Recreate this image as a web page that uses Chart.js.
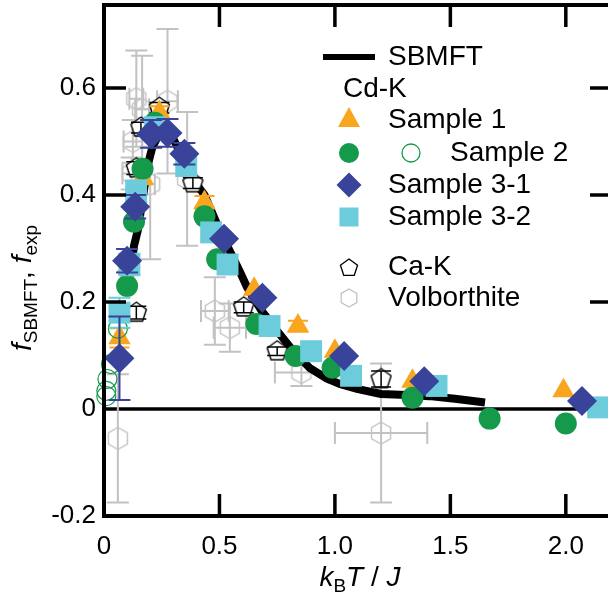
<!DOCTYPE html>
<html><head><meta charset="utf-8">
<script src="https://cdn.jsdelivr.net/npm/chart.js@4/dist/chart.umd.min.js"></script>
<style>
html,body{margin:0;padding:0;background:#fff;overflow:hidden;width:608px;height:594px}
#wrap{position:absolute;left:0;top:0;width:620px;height:594px}
</style>
</head><body><div id="wrap"><canvas id="c" width="620" height="594"></canvas></div>
<script>
// ---------- data ----------
const xTicks = [0, 0.5, 1.0, 1.5, 2.0];
const xTickLabels = ['0', '0.5', '1.0', '1.5', '2.0'];
const yTicks = [-0.2, 0, 0.2, 0.4, 0.6];
const yTickLabels = ['-0.2', '0', '0.2', '0.4', '0.6'];

const sbmftX = [0.11, 0.13, 0.146, 0.17, 0.19, 0.21, 0.24, 0.27, 0.30, 0.34, 0.39, 0.435, 0.5, 0.587, 0.62, 0.68, 0.75, 0.82, 0.89, 0.96, 1.02, 1.1, 1.2, 1.31, 1.41, 1.52, 1.65];
const sbmftY = [0.24, 0.305, 0.333, 0.40, 0.457, 0.49, 0.515, 0.52, 0.505, 0.47, 0.426, 0.40, 0.335, 0.258, 0.227, 0.185, 0.146, 0.108, 0.077, 0.058, 0.047, 0.037, 0.028, 0.026, 0.024, 0.019, 0.012];

const s1X = [0.067, 0.10, 0.167, 0.24, 0.435, 0.65, 0.84, 1.0, 1.336, 1.99];
const s1Y = [0.133, 0.245, 0.432, 0.554, 0.386, 0.224, 0.155, 0.108, 0.052, 0.034];
const s1Err = [0.018, 0.012, 0.012, 0.012, 0.012, 0, 0.01, 0, 0, 0];

const s2X = [0.10, 0.13, 0.167, 0.22, 0.435, 0.49, 0.66, 0.83, 0.99, 1.336, 1.67, 2.0];
const s2Y = [0.23, 0.35, 0.449, 0.535, 0.36, 0.28, 0.159, 0.099, 0.077, 0.021, -0.018, -0.027];

const s2OpenX = [0.06, 0.03, 0.015, 0.01, 0.01];
const s2OpenY = [0.15, 0.084, 0.056, 0.034, 0.024];

const s31X = [0.067, 0.10, 0.135, 0.204, 0.275, 0.348, 0.52, 0.686, 1.04, 1.387, 2.07];
const s31Y = [0.095, 0.277, 0.378, 0.514, 0.516, 0.477, 0.318, 0.208, 0.099, 0.052, 0.015];
const s31Err = [0.078, 0.022, 0.022, 0.026, 0.026, 0.02, 0, 0, 0, 0, 0];

const s32X = [0.067, 0.11, 0.139, 0.22, 0.356, 0.464, 0.535, 0.717, 0.897, 1.07, 1.44, 2.14];
const s32Y = [0.18, 0.27, 0.407, 0.525, 0.454, 0.33, 0.27, 0.155, 0.108, 0.062, 0.043, 0.003];
const s32Err = [0.028, 0.02, 0.02, 0.02, 0, 0, 0, 0, 0, 0, 0, 0];

const caX = [0.14, 0.14, 0.16, 0.24, 0.385, 0.605, 0.75, 1.2];
const caY = [0.18, 0.45, 0.526, 0.563, 0.422, 0.19, 0.108, 0.056];
const caErr = [0.012, 0.012, 0.01, 0.01, 0.01, 0.01, 0.008, 0.015];

const vbX = [0.06, 0.12, 0.125, 0.14, 0.165, 0.2, 0.275, 0.36, 0.48, 0.545, 0.855, 1.2];
const vbY = [-0.055, 0.44, 0.50, 0.58, 0.56, 0.42, 0.575, 0.43, 0.183, 0.152, 0.068, -0.045];
const vbXErr = [0, 0.04, 0.04, 0.03, 0.03, 0.02, 0.045, 0, 0.06, 0.07, 0.115, 0.2];
const vbYErr = [0.12, 0.03, 0.04, 0.09, 0.1, 0.14, 0.135, 0.125, 0.063, 0.045, 0.025, 0.13];

// ---------- styles ----------
const ORANGE = '#F8A61E', GREEN = '#15994A', NAVY = '#384399', CYAN = '#6CCCDB', GRAY = '#C2C2C2';
const FONT = '"Liberation Sans", Arial, sans-serif';

function pts(xs, ys) { return xs.map((x, i) => ({ x: x, y: ys[i] })); }

function polyCanvas(n, r, stroke, lw, fill) {
  const size = Math.ceil(2 * r + lw + 4);
  const c = document.createElement('canvas');
  c.width = size; c.height = size;
  const g = c.getContext('2d');
  g.beginPath();
  for (let i = 0; i < n; i++) {
    const a = -Math.PI / 2 + i * 2 * Math.PI / n;
    const px = size / 2 + r * Math.cos(a), py = size / 2 + r * Math.sin(a);
    if (i === 0) g.moveTo(px, py); else g.lineTo(px, py);
  }
  g.closePath();
  if (fill) { g.fillStyle = fill; g.fill(); }
  g.strokeStyle = stroke; g.lineWidth = lw; g.stroke();
  return c;
}
const pentImg = polyCanvas(5, 10.5, '#000', 1.4, '#fff');
const hexImg = polyCanvas(6, 11, GRAY, 1.4, null);

// ---------- plugins ----------
function drawErr(chart, ds) {
  const ctx = chart.ctx, xs = chart.scales.x, ys = chart.scales.y;
  if (!ds.errY && !ds.errX) return;
  ctx.save();
  ctx.strokeStyle = ds.errColor; ctx.lineWidth = ds.errWidth || 2;
  const cap = ds.capHalf || 10;
  ds.data.forEach((p, i) => {
    const ey = ds.errY ? ds.errY[i] : 0, ex = ds.errX ? ds.errX[i] : 0;
    const cx = xs.getPixelForValue(p.x), cy = ys.getPixelForValue(p.y);
    ctx.beginPath();
    if (ey > 0) {
      const t = ys.getPixelForValue(p.y + ey), b = ys.getPixelForValue(p.y - ey);
      ctx.moveTo(cx, t); ctx.lineTo(cx, b);
      ctx.moveTo(cx - cap, t); ctx.lineTo(cx + cap, t);
      ctx.moveTo(cx - cap, b); ctx.lineTo(cx + cap, b);
    }
    if (ex > 0) {
      const l = xs.getPixelForValue(p.x - ex), r = xs.getPixelForValue(p.x + ex);
      ctx.moveTo(l, cy); ctx.lineTo(r, cy);
      ctx.moveTo(l, cy - cap); ctx.lineTo(l, cy + cap);
      ctx.moveTo(r, cy - cap); ctx.lineTo(r, cy + cap);
    }
    ctx.stroke();
  });
  ctx.restore();
}

function richWidth(ctx, segs, size, subSize) {
  let w = 0;
  segs.forEach(s => {
    ctx.font = (s.it ? 'italic ' : '') + (s.sub ? subSize : size) + 'px ' + FONT;
    w += ctx.measureText(s.t).width;
  });
  return w;
}
function drawRich(ctx, segs, x, y, size, subSize, subDy) {
  segs.forEach(s => {
    ctx.font = (s.it ? 'italic ' : '') + (s.sub ? subSize : size) + 'px ' + FONT;
    ctx.fillText(s.t, x, y + (s.sub ? subDy : 0));
    x += ctx.measureText(s.t).width;
  });
}

const framePlugin = {
  id: 'frame',
  beforeDatasetsDraw(chart) {
    const ctx = chart.ctx, a = chart.chartArea, ys = chart.scales.y;
    ctx.save();
    ctx.strokeStyle = '#000'; ctx.lineWidth = 3.5;
    const y0 = ys.getPixelForValue(0);
    ctx.beginPath(); ctx.moveTo(a.left, y0); ctx.lineTo(a.right, y0); ctx.stroke();
    ctx.restore();
  },
  afterDatasetDraw(chart, args) {
    drawErr(chart, chart.data.datasets[args.index]);
  },
  afterDraw(chart) {
    const ctx = chart.ctx, a = chart.chartArea, xs = chart.scales.x, ys = chart.scales.y;
    ctx.save();
    ctx.strokeStyle = '#000'; ctx.lineWidth = 4; ctx.lineCap = 'square';
    ctx.beginPath();
    ctx.moveTo(a.left, a.top); ctx.lineTo(a.right, a.top);
    ctx.moveTo(a.left, a.top); ctx.lineTo(a.left, a.bottom);
    ctx.moveTo(a.left, a.bottom); ctx.lineTo(a.right, a.bottom);
    ctx.moveTo(a.right, a.top); ctx.lineTo(a.right, a.bottom);
    ctx.stroke();
    ctx.lineCap = 'butt'; ctx.lineWidth = 3.5;
    const TL = 22;
    ctx.beginPath();
    xTicks.forEach(v => {
      if (v <= 0) return;
      const px = xs.getPixelForValue(v);
      ctx.moveTo(px, a.bottom); ctx.lineTo(px, a.bottom - TL);
      ctx.moveTo(px, a.top); ctx.lineTo(px, a.top + TL);
    });
    yTicks.forEach(v => {
      if (v <= 0) return;
      const py = ys.getPixelForValue(v);
      ctx.moveTo(a.left, py); ctx.lineTo(a.left + TL, py);
      ctx.moveTo(a.right, py); ctx.lineTo(a.right - TL, py);
    });
    ctx.stroke();

    // axis titles
    ctx.fillStyle = '#000'; ctx.textBaseline = 'alphabetic'; ctx.textAlign = 'left';
    const xt = [{ t: 'k', it: true }, { t: 'B', sub: true }, { t: 'T', it: true }, { t: ' / ' }, { t: 'J', it: true }];
    const wx = richWidth(ctx, xt, 28, 19);
    drawRich(ctx, xt, 360 - wx / 2, 586, 28, 19, 6);

    const yt = [{ t: 'f', it: true }, { t: 'SBMFT', sub: true }, { t: ', ' }, { t: 'f', it: true }, { t: 'exp', sub: true }];
    const wy = richWidth(ctx, yt, 28, 19);
    ctx.save();
    ctx.translate(31, 288); ctx.rotate(-Math.PI / 2);
    drawRich(ctx, yt, -wy / 2, 0, 28, 19, 6);
    ctx.restore();

    // legend
    ctx.font = '28px ' + FONT; ctx.textBaseline = 'middle';
    ctx.lineWidth = 6; ctx.strokeStyle = '#000';
    ctx.beginPath(); ctx.moveTo(323, 57); ctx.lineTo(375, 57); ctx.stroke();
    ctx.fillText('SBMFT', 388, 57);
    ctx.fillText('Cd-K', 343, 89);
    const mx = 349;
    ctx.fillStyle = ORANGE; ctx.beginPath();
    ctx.moveTo(mx, 107); ctx.lineTo(mx + 11, 127); ctx.lineTo(mx - 11, 127); ctx.closePath(); ctx.fill();
    ctx.fillStyle = '#000'; ctx.fillText('Sample 1', 388, 120);
    ctx.fillStyle = GREEN; ctx.beginPath(); ctx.arc(mx, 153, 10, 0, 2 * Math.PI); ctx.fill();
    ctx.strokeStyle = GREEN; ctx.lineWidth = 1.3; ctx.beginPath(); ctx.arc(411, 153, 9, 0, 2 * Math.PI); ctx.stroke();
    ctx.fillStyle = '#000'; ctx.fillText('Sample 2', 450, 153);
    ctx.fillStyle = NAVY; ctx.beginPath();
    ctx.moveTo(mx, 172.5); ctx.lineTo(mx + 12.5, 185); ctx.lineTo(mx, 197.5); ctx.lineTo(mx - 12.5, 185); ctx.closePath(); ctx.fill();
    ctx.fillStyle = '#000'; ctx.fillText('Sample 3-1', 388, 185);
    ctx.fillStyle = CYAN; ctx.fillRect(mx - 9.5, 207.5, 19, 19);
    ctx.fillStyle = '#000'; ctx.fillText('Sample 3-2', 388, 217);
    const pl = polyCanvas(5, 9, '#000', 1.3, '#fff');
    ctx.drawImage(pl, mx - pl.width / 2, 268 - pl.height / 2);
    ctx.fillText('Ca-K', 388, 267);
    const hl = polyCanvas(6, 9, GRAY, 1.3, null);
    ctx.drawImage(hl, mx - hl.width / 2, 298 - hl.height / 2);
    ctx.fillText('Volborthite', 388, 298);
    ctx.restore();
  }
};

// ---------- chart ----------
const tickFont = { size: 26, family: FONT };
function labelFor(ticks, labels, v) {
  const i = ticks.findIndex(t => Math.abs(t - v) < 1e-9);
  return i >= 0 ? labels[i] : '';
}
function noPad(s) { s.paddingTop = 0; s.paddingBottom = 0; s.paddingLeft = 0; s.paddingRight = 0; }

new Chart(document.getElementById('c'), {
  type: 'scatter',
  data: {
    datasets: [
      { label: 'Sample 3-1', data: pts(s31X, s31Y), order: 1, clip: false,
        pointStyle: 'rectRot', pointRadius: 15, backgroundColor: NAVY, borderWidth: 0,
        errY: s31Err, errColor: NAVY, errWidth: 2, capHalf: 11 },
      { label: 'Sample 3-2', data: pts(s32X, s32Y), order: 2, clip: false,
        pointStyle: 'rect', pointRadius: 15.5, backgroundColor: CYAN, borderWidth: 0,
        errY: s32Err, errColor: CYAN, errWidth: 2, capHalf: 11 },
      { label: 'Sample 2', data: pts(s2X, s2Y), order: 3, clip: false,
        pointStyle: 'circle', pointRadius: 11, backgroundColor: GREEN, borderWidth: 0 },
      { label: 'Sample 2 open', data: pts(s2OpenX, s2OpenY), order: 4, clip: false,
        pointStyle: 'circle', pointRadius: 9.5, backgroundColor: 'rgba(0,0,0,0)', borderColor: GREEN, borderWidth: 1.2 },
      { label: 'Sample 1', data: pts(s1X, s1Y), order: 5, clip: false,
        pointStyle: 'triangle', pointRadius: 13, backgroundColor: ORANGE, borderWidth: 0,
        errY: s1Err, errColor: ORANGE, errWidth: 2, capHalf: 10 },
      { label: 'Ca-K', data: pts(caX, caY), order: 6, clip: false,
        pointStyle: pentImg, pointRadius: 10,
        errY: caErr, errColor: '#000', errWidth: 1.5, capHalf: 10 },
      { type: 'line', label: 'SBMFT', data: pts(sbmftX, sbmftY), order: 7, clip: false,
        borderColor: '#000', borderWidth: 8, pointRadius: 0, fill: false, tension: 0,
        showLine: true, borderJoinStyle: 'round', borderCapStyle: 'butt' },
      { label: 'Volborthite', data: pts(vbX, vbY), order: 8, clip: false,
        pointStyle: hexImg, pointRadius: 11,
        errY: vbYErr, errX: vbXErr, errColor: GRAY, errWidth: 2, capHalf: 11 }
    ]
  },
  options: {
    responsive: false, animation: false, devicePixelRatio: 1,
    layout: { autoPadding: false, padding: { left: 0, top: 5, right: 8, bottom: 0 } },
    plugins: { legend: { display: false }, tooltip: { enabled: false } },
    scales: {
      x: {
        type: 'linear', min: 0, max: 2.2,
        grid: { display: false, drawTicks: false }, border: { display: false },
        afterBuildTicks: s => { s.ticks = xTicks.map(v => ({ value: v })); },
        afterFit: s => { s.height = 78; noPad(s); },
        ticks: { callback: v => labelFor(xTicks, xTickLabels, v), font: tickFont, color: '#000',
                 padding: 15, maxRotation: 0, autoSkip: false }
      },
      y: {
        type: 'linear', min: -0.2, max: 0.755,
        grid: { display: false, drawTicks: false }, border: { display: false },
        afterBuildTicks: s => { s.ticks = yTicks.map(v => ({ value: v })); },
        afterFit: s => { s.width = 104; noPad(s); },
        ticks: { callback: v => labelFor(yTicks, yTickLabels, v), font: tickFont, color: '#000',
                 padding: 8, autoSkip: false }
      }
    }
  },
  plugins: [framePlugin]
});
</script>
</body></html>
